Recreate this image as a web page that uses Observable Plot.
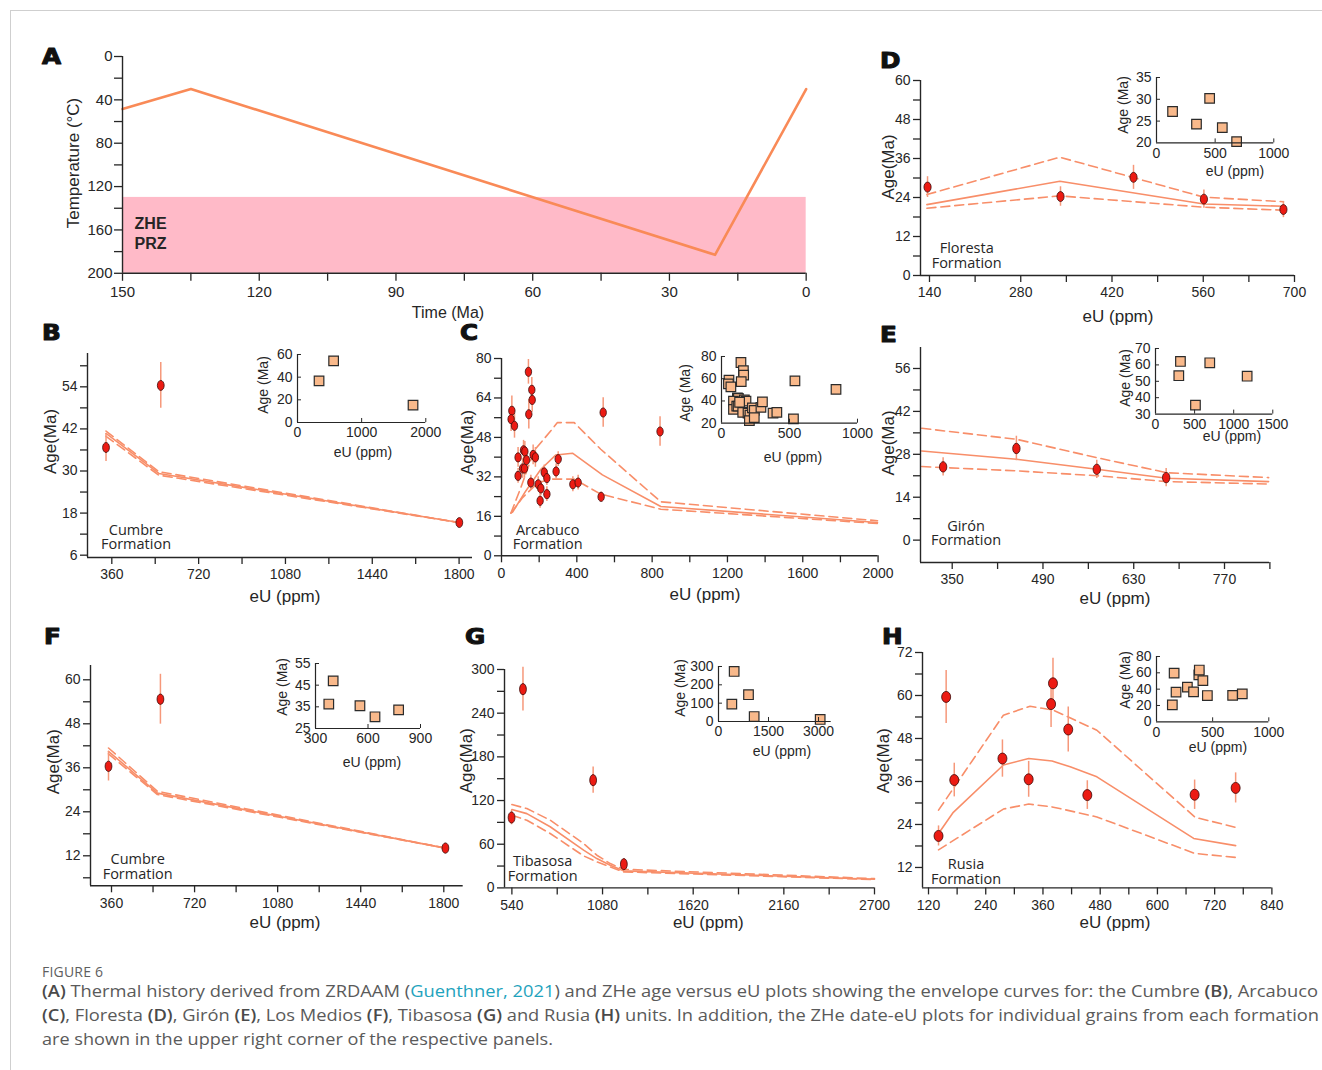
<!DOCTYPE html>
<html>
<head>
<meta charset="utf-8">
<script src="https://cdn.jsdelivr.net/npm/d3@7"></script>
<script src="https://cdn.jsdelivr.net/npm/@observablehq/plot@0.6"></script>
<style>
  html, body { margin: 0; padding: 0; background: #fff; }
  #fig { position: relative; width: 1322px; height: 1070px; overflow: hidden; background: #fff; }
  .pane { position: absolute; }
  .pane svg { overflow: visible; display: block; max-width: none !important; }
  #border { position: absolute; left: 10px; top: 10px; width: 1312px; height: 1060px;
            border-top: 1px solid #cfcfcf; border-left: 1px solid #cfcfcf; }
  .cap { position: absolute; left: 42px; white-space: nowrap; transform-origin: 0 50%;
         font-family: "Open Sans", "Noto Sans", sans-serif; color: #5a5a5a; }
  .cap b { font-weight: 600; color: #4a4a4a; }
  .cap .ref { color: #1fa3bd; }
</style>
</head>
<body>
<div id="fig"><div id="border"></div></div>
<script>
// ---------------- Panel A: thermal history (ZRDAAM) ----------------
const historyTime = [150, 135, 20, 0];
const historyTemp = [48.5, 30, 183, 30];
const przTemp = [130, 200];           // ZHe partial retention zone, °C
const przTime = [150, 0];

// ---------------- Panel B: Cumbre Formation ----------------
const cumbreEU = [336, 563, 1801];
const cumbreAge = [36.7, 54.4, 15.3];
const cumbreErr = [4, 6.5, 1];
const cumbreEnvEU = [336, 555, 1800];
const cumbreEnvHigh = [41.4, 29.8, 15.3];
const cumbreEnvMid = [40.7, 29.3, 15.3];
const cumbreEnvLow = [39.9, 28.8, 15.3];

// ---------------- Panel C: Arcabuco Formation ----------------
const arcabucoEU = [55, 51, 69, 143, 161, 163, 145, 117, 124, 168, 180, 88, 88, 112, 122, 133,
                    156, 195, 209, 205, 227, 241, 241, 290, 301, 379, 407, 529, 540, 842];
const arcabucoAge = [58.8, 55.4, 52.7, 74.6, 67.3, 63.2, 57.4, 42.8, 42.3, 40.9, 39.9, 39.9, 32.4, 35.4, 35.4, 38.8,
                     29.7, 29.0, 27.3, 22.3, 33.8, 31.5, 25.0, 34.2, 39.2, 29.0, 29.7, 23.9, 58.1, 50.4];
const arcabucoErr = [6, 5, 5, 5, 5, 5, 6, 4, 4, 4, 4, 4, 3, 4, 4, 4,
                     3, 3, 3, 3, 3, 3, 3, 3, 3, 3, 3, 2, 6, 6];
const arcabucoHighEU = [50, 103, 173, 262, 297, 386, 527, 846, 1997];
const arcabucoHigh = [17.3, 27.7, 42.6, 50.7, 54, 54, 43.2, 21.9, 14.2];
const arcabucoMidEU = [58, 129, 209, 289, 377, 536, 846, 1997];
const arcabucoMid = [17.6, 26.3, 35.1, 40.9, 41.6, 32.8, 20.0, 13.5];
const arcabucoLowEU = [50, 112, 191, 262, 386, 527, 846, 1997];
const arcabucoLow = [17.3, 23.6, 29.5, 31.1, 31.1, 25.0, 18.9, 13.1];

// ---------------- Panel D: Floresta Formation ----------------
const florestaEU = [137, 341, 453, 561, 683];
const florestaAge = [27.2, 24.3, 30.2, 23.5, 20.3];
const florestaErr = [3.2, 3, 3.7, 2.8, 2.5];
const florestaEnvEU = [136, 340, 561, 683];
const florestaHigh = [24.9, 36.4, 24.1, 22.7];
const florestaMid = [21.8, 29, 22, 21.3];
const florestaLow = [20.7, 24.5, 21, 20.1];

// ---------------- Panel E: Girón Formation ----------------
const gironEU = [336, 449, 573, 680];
const gironAge = [23.9, 29.9, 23.1, 20.4];
const gironErr = [3, 4, 3, 3];
const gironEnvEU = [303, 449, 573, 681, 838];
const gironHigh = [36.5, 32.9, 26.9, 22, 20.4];
const gironMid = [29.1, 26.4, 23.1, 20.2, 19.1];
const gironLow = [24, 22.6, 21, 19.1, 18.3];
const gironGrainEU = [319, 298, 511, 694, 1172];
const gironGrainAge = [62.1, 53.4, 35.5, 61.3, 53.1];

// ---------------- Panel F: Los Medios (Cumbre) ----------------
const mediosEU = [347, 572, 1807];
const mediosAge = [36.4, 54.7, 14.1];
const mediosErr = [4, 6.8, 1];
const mediosEnvEU = [347, 559, 1807];
const mediosHigh = [41.4, 29.6, 14.1];
const mediosMid = [40.5, 29.1, 14.1];
const mediosLow = [39.8, 28.7, 14.1];
const mediosGrainEU = [376, 401, 554, 640, 775];
const mediosGrainAge = [36.3, 47, 35.5, 30.4, 33.6];

// ---------------- Panel G: Tibasosa Formation ----------------
const tibasosaEU = [538, 606, 1024, 1207];
const tibasosaAge = [96.7, 273, 148, 32.6];
const tibasosaErr = [10, 30, 18, 5];
const tibasosaEnvEU = [540, 629, 768, 967, 1046, 1126, 1205, 2700];
const tibasosaHigh = [114.5, 109, 93, 61, 44.9, 33.4, 25.6, 12.8];
const tibasosaMid = [107.6, 102, 84, 51.8, 40.3, 31.1, 23.4, 11.9];
const tibasosaLow = [99.8, 93, 74.7, 44, 35.7, 28.9, 22, 11.5];
const tibasosaGrainEU = [400, 470, 900, 1070, 3050];
const tibasosaGrainAge = [95, 273, 146, 27, 11];

// ---------------- Panel H: Rusia Formation ----------------
const rusiaEU = [141, 157, 174, 275, 330, 377, 381, 413, 453, 678, 764];
const rusiaAge = [20.8, 59.6, 36.4, 42.4, 36.6, 57.6, 63.4, 50.5, 32.2, 32.3, 34.2];
const rusiaErr = [2.8, 7.4, 4.7, 5.2, 5, 6.5, 7, 6.3, 4, 4.1, 4.2];
const rusiaHighEU = [141, 277, 333, 382, 473, 679, 764];
const rusiaHigh = [28, 54.5, 57, 55.9, 50.3, 26, 23.2];
const rusiaMidEU = [141, 172, 277, 330, 379, 417, 473, 676, 764];
const rusiaMid = [21.5, 27.4, 40.6, 42.4, 41.7, 40.1, 37.3, 20.1, 18.1];
const rusiaLowEU = [141, 179, 277, 330, 379, 417, 473, 679, 764];
const rusiaLow = [16.9, 20.1, 28.3, 29.7, 28.9, 27.8, 26.1, 15.9, 14.8];

// ---------------- styling ----------------
const fig = document.getElementById("fig");
const ink = "#262626";
const envColor = "#F88E69";
const errColor = "#F6987A";
const dotRed = "#EC1B13";
const grainFill = "#F9B98B";
const przFill = "#FFBAC8";
const sans = "'Liberation Sans', Arial, Helvetica, sans-serif";
const humanist = "'Open Sans', 'Noto Sans', sans-serif";

const series = (xs, ys, es) => xs.map((x, i) => ({x, y: ys[i], e: es ? es[i] : 0}));
const fmt = d => String(d);

// elliptical marker (taller than wide), drawn with four cubic arcs
function ellipseSymbol(rx, ry) {
  const k = 0.5523;
  return {
    draw(ctx) {
      ctx.moveTo(rx, 0);
      ctx.bezierCurveTo(rx, ry * k, rx * k, ry, 0, ry);
      ctx.bezierCurveTo(-rx * k, ry, -rx, ry * k, -rx, 0);
      ctx.bezierCurveTo(-rx, -ry * k, -rx * k, -ry, 0, -ry);
      ctx.bezierCurveTo(rx * k, -ry, rx, -ry * k, rx, 0);
      ctx.closePath();
    }
  };
}

// Builds one plot whose frame occupies the pixel box [x0,y0,x1,y1] of the figure.
function drawPlot({box: [x0, y0, x1, y1], xDomain, yDomain, yReverse = false,
                   xTicks, xMinor = [], yTicks, yMinor = [], marks,
                   fontSize = 14, tick = 7, xPad = 5, yPad = 3, inset = false}) {
  const ml = 60, mr = 40, mt = 30, mb = 50;
  const w = x1 - x0, h = y1 - y0;
  const xLeft = xDomain[0];
  const yBase = yReverse ? yDomain[1] : yDomain[0];
  const axes = [
    Plot.ruleX([xLeft], {stroke: ink, strokeWidth: inset ? 1.2 : 1.4}),
    Plot.ruleY([yBase], {stroke: ink, strokeWidth: inset ? 1.2 : 1.4})
  ];
  if (inset) {
    const kx = 4 * Math.abs(xDomain[1] - xDomain[0]) / w;
    const ky = 4 * Math.abs(yDomain[1] - yDomain[0]) / h;
    axes.push(
      Plot.axisX({ticks: xTicks, tickSize: 0, tickPadding: 5, tickFormat: fmt, label: null, fontSize}),
      Plot.axisY({ticks: yTicks, tickSize: 0, tickPadding: 5, tickFormat: fmt, label: null, fontSize}),
      Plot.ruleX(xTicks.filter(t => t !== xLeft), {x: d => d, y1: () => yBase, y2: () => yBase + ky, stroke: ink, strokeWidth: 1}),
      Plot.ruleY(yTicks.filter(t => t !== yBase), {y: d => d, x1: () => xLeft, x2: () => xLeft + kx, stroke: ink, strokeWidth: 1})
    );
  } else {
    axes.push(
      Plot.axisX({ticks: xTicks, tickSize: tick, tickPadding: xPad, tickFormat: fmt, label: null, strokeWidth: 1.3, fontSize}),
      Plot.axisY({ticks: yTicks, tickSize: tick, tickPadding: yPad, tickFormat: fmt, label: null, strokeWidth: 1.3, fontSize})
    );
    if (xMinor.length) axes.push(Plot.axisX({ticks: xMinor, tickSize: tick, tickFormat: () => "", label: null, strokeWidth: 1.3}));
    if (yMinor.length) axes.push(Plot.axisY({ticks: yMinor, tickSize: tick, tickFormat: () => "", label: null, strokeWidth: 1.3}));
  }
  const width = w + ml + mr, height = h + mt + mb;
  const svg = Plot.plot({
    width, height,
    marginLeft: ml, marginRight: mr, marginTop: mt, marginBottom: mb,
    x: {domain: xDomain},
    y: {domain: yDomain, reverse: yReverse},
    style: {fontFamily: sans, fontSize: `${fontSize}px`, color: ink, background: "none", overflow: "visible"},
    marks: [...marks, ...axes]
  });
  const holder = document.createElement("div");
  holder.className = "pane";
  holder.style.left = `${x0 - ml}px`;
  holder.style.top = `${y0 - mt}px`;
  holder.style.width = `${width}px`;
  holder.style.height = `${height}px`;
  holder.append(svg);
  fig.append(holder);
}

// Main age–eU panel: envelope curves, error bars and grain ellipses
function agePanel({grains, envelope, dot = [3.6, 5], ...axes}) {
  const marks = [
    ...envelope.map(([xs, ys, dashed]) => Plot.line(series(xs, ys), {
      x: "x", y: "y", stroke: envColor, strokeWidth: 1.6,
      strokeDasharray: dashed ? "9,5" : undefined
    })),
    Plot.ruleX(grains, {x: "x", y1: d => d.y - d.e, y2: d => d.y + d.e, stroke: errColor, strokeWidth: 1.5}),
    Plot.dot(grains, {x: "x", y: "y", symbol: ellipseSymbol(...dot), fill: dotRed, stroke: "#3b0d0b", strokeWidth: 0.8})
  ];
  drawPlot({...axes, marks});
}

// Inset: individual grain dates versus eU
function grainInset({grains, ...axes}) {
  drawPlot({...axes, inset: true, fontSize: 14, marks: [
    Plot.dot(grains, {x: "x", y: "y", symbol: "square", r: 5.4, fill: grainFill, stroke: "#2b2b2b", strokeWidth: 1.2})
  ]});
}

// ---------------- A ----------------
drawPlot({
  box: [121.8, 55.5, 805.5, 272.3],
  xDomain: [150, 0], yDomain: [0, 200], yReverse: true,
  xTicks: [150, 120, 90, 60, 30, 0], xMinor: [135, 105, 75, 45, 15],
  yTicks: [0, 40, 80, 120, 160, 200], yMinor: [20, 60, 100, 140, 180],
  fontSize: 15, tick: 8, xPad: 5, yPad: 2,
  marks: [
    Plot.rect([{t0: przTime[0], t1: przTime[1], T0: przTemp[0], T1: przTemp[1]}],
      {x1: "t0", x2: "t1", y1: "T0", y2: "T1", fill: przFill}),
    Plot.line(series(historyTime, historyTemp), {x: "x", y: "y", stroke: "#F98A57", strokeWidth: 2.6})
  ]
});

// ---------------- B ----------------
const cumbreGrains = series(cumbreEU, cumbreAge, cumbreErr);
agePanel({
  box: [86.7, 353.3, 471.7, 557.3], xDomain: [259.2, 1855.6], yDomain: [5.34, 63.5],
  xTicks: [360, 720, 1080, 1440, 1800], xMinor: [540, 900, 1260, 1620],
  yTicks: [6, 18, 30, 42, 54], yMinor: [12, 24, 36, 48, 60],
  grains: cumbreGrains, dot: [3.4, 5],
  envelope: [[cumbreEnvEU, cumbreEnvHigh, true], [cumbreEnvEU, cumbreEnvMid, false], [cumbreEnvEU, cumbreEnvLow, true]]
});
grainInset({box: [296.7, 354.3, 425, 422.3], xDomain: [0, 2000], yDomain: [0, 60],
  xTicks: [0, 1000, 2000], yTicks: [0, 20, 40, 60], grains: cumbreGrains});

// ---------------- C ----------------
const arcabucoGrains = series(arcabucoEU, arcabucoAge, arcabucoErr);
agePanel({
  box: [500.7, 357.7, 877.3, 555], xDomain: [0, 2000], yDomain: [0, 80],
  xTicks: [0, 400, 800, 1200, 1600, 2000], xMinor: [200, 600, 1000, 1400, 1800],
  yTicks: [0, 16, 32, 48, 64, 80], yMinor: [8, 24, 40, 56, 72],
  grains: arcabucoGrains, dot: [3.2, 4.6],
  envelope: [[arcabucoHighEU, arcabucoHigh, true], [arcabucoMidEU, arcabucoMid, false], [arcabucoLowEU, arcabucoLow, true]]
});
grainInset({box: [720.7, 356, 856.7, 422.7], xDomain: [0, 1000], yDomain: [20, 80],
  xTicks: [0, 500, 1000], yTicks: [20, 40, 60, 80], grains: arcabucoGrains});

// ---------------- D ----------------
const florestaGrains = series(florestaEU, florestaAge, florestaErr);
agePanel({
  box: [920, 80, 1294, 275], xDomain: [126.2, 700], yDomain: [0, 60],
  xTicks: [140, 280, 420, 560, 700], xMinor: [210, 350, 490, 630],
  yTicks: [0, 12, 24, 36, 48, 60], yMinor: [6, 18, 30, 42, 54],
  grains: florestaGrains, dot: [3.6, 5],
  envelope: [[florestaEnvEU, florestaHigh, true], [florestaEnvEU, florestaMid, false], [florestaEnvEU, florestaLow, true]]
});
grainInset({box: [1156, 77.3, 1273.3, 142.7], xDomain: [0, 1000], yDomain: [20, 35],
  xTicks: [0, 500, 1000], yTicks: [20, 25, 30, 35], grains: florestaGrains});

// ---------------- E ----------------
agePanel({
  box: [920, 346.7, 1269, 561.7], xDomain: [301.1, 839.4], yDomain: [-7.3, 62.85],
  xTicks: [350, 490, 630, 770], xMinor: [420, 560, 700, 840],
  yTicks: [0, 14, 28, 42, 56], yMinor: [7, 21, 35, 49],
  grains: series(gironEU, gironAge, gironErr), dot: [3.7, 5.2],
  envelope: [[gironEnvEU, gironHigh, true], [gironEnvEU, gironMid, false], [gironEnvEU, gironLow, true]]
});
grainInset({box: [1155, 347.7, 1272.3, 413.3], xDomain: [0, 1500], yDomain: [30, 70],
  xTicks: [0, 500, 1000, 1500], yTicks: [30, 40, 50, 60, 70], grains: series(gironGrainEU, gironGrainAge)});

// ---------------- F ----------------
agePanel({
  box: [90, 665, 462.7, 885.3], xDomain: [269, 1884], yDomain: [3.82, 63.9],
  xTicks: [360, 720, 1080, 1440, 1800], xMinor: [540, 900, 1260, 1620],
  yTicks: [12, 24, 36, 48, 60], yMinor: [6, 18, 30, 42, 54],
  grains: series(mediosEU, mediosAge, mediosErr), dot: [3.4, 5.2],
  envelope: [[mediosEnvEU, mediosHigh, true], [mediosEnvEU, mediosMid, false], [mediosEnvEU, mediosLow, true]]
});
grainInset({box: [315, 662.7, 420, 727.7], xDomain: [300, 900], yDomain: [25, 55],
  xTicks: [300, 600, 900], yTicks: [25, 35, 45, 55], grains: series(mediosGrainEU, mediosGrainAge)});

// ---------------- G ----------------
agePanel({
  box: [504.3, 669.3, 874.3, 887.7], xDomain: [496, 2700], yDomain: [0, 300],
  xTicks: [540, 1080, 1620, 2160, 2700], xMinor: [810, 1350, 1890, 2430],
  yTicks: [0, 60, 120, 180, 240, 300], yMinor: [30, 90, 150, 210, 270],
  grains: series(tibasosaEU, tibasosaAge, tibasosaErr), dot: [3.4, 5.6],
  envelope: [[tibasosaEnvEU, tibasosaHigh, true], [tibasosaEnvEU, tibasosaMid, false], [tibasosaEnvEU, tibasosaLow, true]]
});
grainInset({box: [718.3, 665.7, 831, 720.7], xDomain: [0, 3380], yDomain: [0, 300],
  xTicks: [0, 1500, 3000], yTicks: [0, 100, 200, 300], grains: series(tibasosaGrainEU, tibasosaGrainAge)});

// ---------------- H ----------------
const rusiaGrains = series(rusiaEU, rusiaAge, rusiaErr);
agePanel({
  box: [922.3, 652.3, 1271.7, 887.7], xDomain: [107.4, 840], yDomain: [6.3, 72],
  xTicks: [120, 240, 360, 480, 600, 720, 840], xMinor: [180, 300, 420, 540, 660, 780],
  yTicks: [12, 24, 36, 48, 60, 72], yMinor: [18, 30, 42, 54, 66],
  grains: rusiaGrains, dot: [4.5, 5.5],
  envelope: [[rusiaHighEU, rusiaHigh, true], [rusiaMidEU, rusiaMid, false], [rusiaLowEU, rusiaLow, true]]
});
grainInset({box: [1156, 655.7, 1268.3, 721], xDomain: [0, 1000], yDomain: [0, 80],
  xTicks: [0, 500, 1000], yTicks: [0, 20, 40, 60, 80], grains: rusiaGrains});

// ---------------- titles, panel letters, formation names ----------------
const overlay = d3.create("svg")
  .attr("width", 1322).attr("height", 1070)
  .style("position", "absolute").style("left", "0px").style("top", "0px")
  .style("pointer-events", "none");

function label(x, y, text, {size = 17, rotate = false, family = sans, weight = 400, anchor = "middle"} = {}) {
  overlay.append("text")
    .attr("transform", `translate(${x},${y})${rotate ? " rotate(-90)" : ""}`)
    .attr("text-anchor", anchor).attr("dominant-baseline", "central")
    .attr("font-family", family).attr("font-size", size).attr("font-weight", weight)
    .attr("fill", ink).text(text);
}

// axis titles
label(73.4, 163, "Temperature (°C)", {rotate: true, size: 17});
label(448, 312.7, "Time (Ma)", {size: 16});
const ageTitles = [[50, 441.5], [467, 442.5], [888, 167], [888, 443], [53, 761.7], [466, 760.7], [883, 760.7]];
ageTitles.forEach(([x, y]) => label(x, y, "Age(Ma)", {rotate: true}));
const euTitles = [[285, 596], [705, 594], [1118, 316], [1115, 598.3], [285, 922.7], [708.3, 922.7], [1115, 922.7]];
euTitles.forEach(([x, y]) => label(x, y, "eU (ppm)"));

// inset titles
const insetAge = [[263, 385], [685, 393], [1123, 105], [1125, 378], [282, 687], [680, 688], [1125, 680]];
insetAge.forEach(([x, y]) => label(x, y, "Age (Ma)", {rotate: true, size: 14}));
const insetEU = [[363, 452], [793, 457], [1235, 170.5], [1232, 436], [372, 762], [782, 751], [1218, 747]];
insetEU.forEach(([x, y]) => label(x, y, "eU (ppm)", {size: 14}));

// PRZ band label
label(134.6, 223.3, "ZHE", {size: 16, weight: 700, anchor: "start"});
label(134.6, 243.3, "PRZ", {size: 16, weight: 700, anchor: "start"});

// formation names: two lines in a single text block
const formations = [
  ["Cumbre", 136, 529.5], ["Arcabuco", 547.7, 529.5], ["Floresta", 966.7, 248],
  ["Girón", 966, 525.5], ["Cumbre", 137.7, 859], ["Tibasosa", 542.7, 861], ["Rusia", 966, 864]
];
formations.forEach(([name, x, y]) => {
  const t = overlay.append("text")
    .attr("text-anchor", "middle").attr("font-family", humanist)
    .attr("font-size", 14.5).attr("fill", ink);
  t.append("tspan").attr("x", x).attr("y", y + 5).text(name);
  t.append("tspan").attr("x", x).attr("y", y + 19.5).text("Formation");
});

// panel letters (heavy face: bold glyph with a matching outline)
const letters = [["A", 42, 64], ["B", 42, 340], ["C", 460, 340], ["D", 880, 68],
                 ["E", 880, 342], ["F", 44, 644], ["G", 465, 644], ["H", 882, 644]];
letters.forEach(([t, x, y]) => overlay.append("text")
  .attr("x", x).attr("y", y).attr("font-family", "'DejaVu Sans', sans-serif")
  .attr("font-weight", 700).attr("font-size", 22).attr("fill", "#111")
  .attr("stroke", "#111").attr("stroke-width", 1.1).attr("stroke-linejoin", "round")
  .attr("transform", `translate(${x},${y}) scale(1.12,1) translate(${-x},${-y})`)
  .text(t));

fig.append(overlay.node());

// ---------------- caption ----------------
const capHead = document.createElement("div");
capHead.className = "cap";
capHead.style.top = "962px";
capHead.style.fontSize = "14px";
capHead.style.letterSpacing = "0.2px";
capHead.style.color = "#5e5e5e";
capHead.textContent = "FIGURE 6";
fig.append(capHead);

const capLines = [
  [`<b>(A)</b> Thermal history derived from ZRDAAM (<span class="ref">Guenthner, 2021</span>) and ZHe age versus eU plots showing the envelope curves for: the Cumbre <b>(B)</b>, Arcabuco`, 1276],
  [`<b>(C)</b>, Floresta <b>(D)</b>, Girón <b>(E)</b>, Los Medios <b>(F)</b>, Tibasosa <b>(G)</b> and Rusia <b>(H)</b> units. In addition, the ZHe date-eU plots for individual grains from each formation`, 1277],
  [`are shown in the upper right corner of the respective panels.`, 511]
];
capLines.forEach(([html, target], i) => {
  const line = document.createElement("div");
  line.className = "cap";
  line.style.top = `${979 + 24 * i}px`;
  line.style.fontSize = "17px";
  line.style.lineHeight = "24px";
  line.innerHTML = html;
  fig.append(line);
  const wNow = line.getBoundingClientRect().width;
  const s = target / wNow;
  if (s > 0.8 && s < 1.2) line.style.transform = `scaleX(${s})`;
});
</script>
</body>
</html>
